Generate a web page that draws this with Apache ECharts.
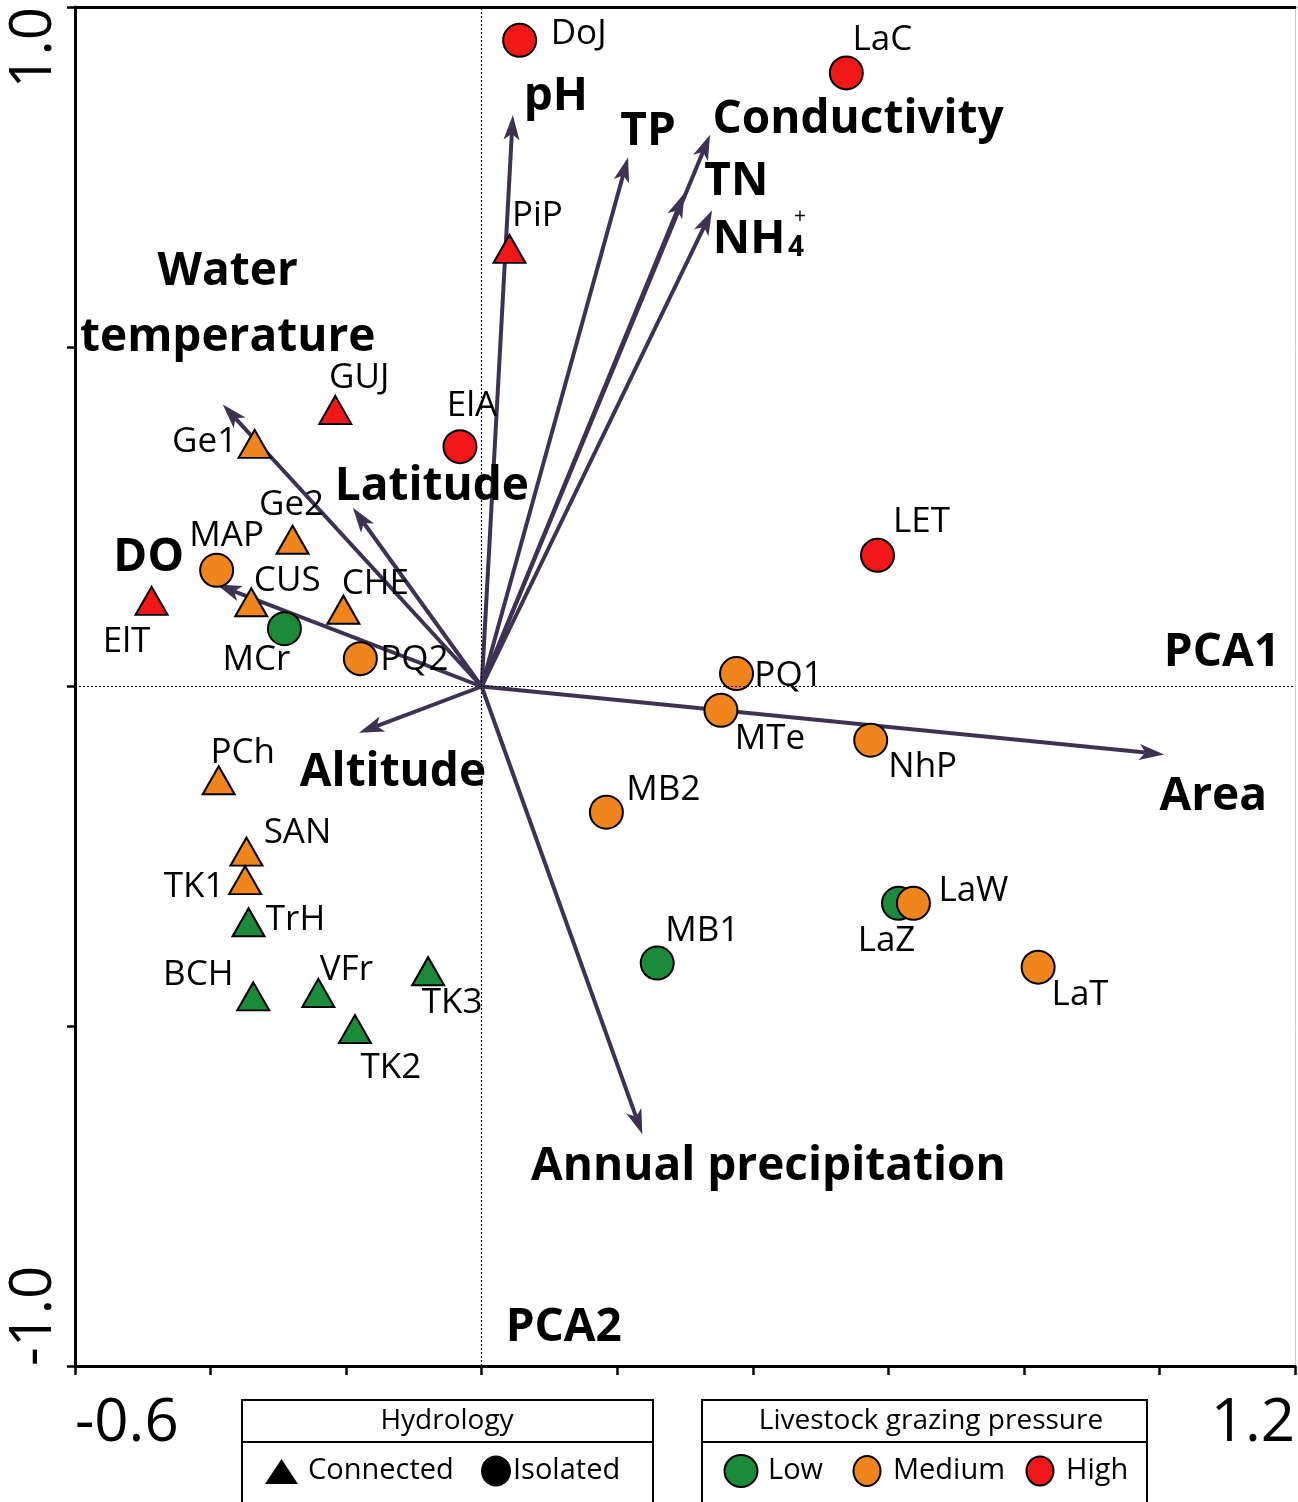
<!DOCTYPE html>
<html>
<head>
<meta charset="utf-8">
<title>PCA biplot</title>
<script src="https://cdn.jsdelivr.net/npm/echarts@6/dist/echarts.min.js"></script>
<style>
html, body { margin: 0; padding: 0; background: #fff; }
#main { width: 1298px; height: 1502px; }
</style>
</head>
<body>
<div id="main"></div>
<script>
// sites (scores on PCA1 / PCA2)
var siteNames = ['DoJ','LaC','PiP','GUJ','ElA','Ge1','Ge2','MAP','ElT','CUS','CHE','MCr','PQ2','LET','PQ1',
                 'MTe','NhP','MB2','LaZ','LaW','MB1','LaT','PCh','SAN','TK1','TrH','BCH','VFr','TK2','TK3'];
var sitePC1 = [0.056, 0.538, 0.041, -0.216, -0.032, -0.335, -0.279, -0.391, -0.487, -0.340, -0.204, -0.291, -0.179, 0.584, 0.376,
               0.353, 0.574, 0.184, 0.615, 0.637, 0.259, 0.821, -0.388, -0.347, -0.349, -0.344, -0.337, -0.241, -0.187, -0.079];
var sitePC2 = [0.951, 0.903, 0.644, 0.407, 0.353, 0.357, 0.216, 0.171, 0.126, 0.124, 0.113, 0.085, 0.041, 0.193, 0.019,
               -0.035, -0.079, -0.185, -0.319, -0.319, -0.407, -0.413, -0.138, -0.243, -0.285, -0.347, -0.456, -0.451, -0.504, -0.419];
var hydrology = ['Isolated','Isolated','Connected','Connected','Isolated','Connected','Connected','Isolated','Connected','Connected',
                 'Connected','Isolated','Isolated','Isolated','Isolated','Isolated','Isolated','Isolated','Isolated','Isolated',
                 'Isolated','Isolated','Connected','Connected','Connected','Connected','Connected','Connected','Connected','Connected'];
var grazing = ['High','High','High','High','High','Medium','Medium','Medium','High','Medium',
               'Medium','Low','Medium','High','Medium','Medium','Medium','Medium','Low','Medium',
               'Low','Medium','Medium','Medium','Medium','Low','Low','Low','Low','Low'];

// environmental variables (loadings)
var varNames = ['pH','TP','Conductivity','TN','NH4','Water temperature','Latitude','DO','Altitude','Area','Annual precipitation'];
var varPC1 = [0.046, 0.216, 0.337, 0.299, 0.340, -0.382, -0.190, -0.391, -0.181, 1.007, 0.237];
var varPC2 = [0.841, 0.779, 0.812, 0.726, 0.701, 0.415, 0.263, 0.150, -0.068, -0.100, -0.659];

var xTickLabels = ['-0.6', '1.2'];
var yTickLabels = ['-1.0', '1.0'];

// label placement (pixels from the mark)
var siteLabelOffset = {
  DoJ:[59,-6], LaC:[36,-33], PiP:[28,-33], GUJ:[24,-32], ElA:[12,-41], Ge1:[-50,-2], Ge2:[-1,-35], MAP:[10,-34],
  ElT:[-25,41], CUS:[36,-21], CHE:[32,-26], MCr:[-28,31], PQ2:[54,1], LET:[44,-33], PQ1:[52,2], MTe:[49,29],
  NhP:[52,27], MB2:[57,-22], LaZ:[-12,38], LaW:[60,-12], MB1:[45,-32], LaT:[42,28], PCh:[24,-27], SAN:[51,-19],
  TK1:[-51,7], TrH:[47,-2], BCH:[-55,-21], VFr:[28,-23], TK2:[36,39], TK3:[24,32]
};
var varLabelOffset = {
  'pH':[43,-18], 'TP':[20,-25], 'Conductivity':[148,-15], 'TN':[52,-11], 'NH4':[37,30],
  'Water temperature':[5,-100], 'Latitude':[79,-21], 'DO':[-68,-27], 'Altitude':[34,40],
  'Area':[49,42], 'Annual precipitation':[126,33]
};

var font = "'Open Sans', 'DejaVu Sans', sans-serif";
var grazeColor = { Low: '#1b8a3a', Medium: '#f0841d', High: '#f21718' };
var arrowColor = '#3e3252';

var chart = echarts.init(document.getElementById('main'));

var siteData = siteNames.map(function (n, i) {
  var tri = hydrology[i] === 'Connected';
  return {
    name: n,
    value: [sitePC1[i], sitePC2[i]],
    symbol: tri ? 'triangle' : 'circle',
    symbolSize: tri ? [32, 28] : 33,
    itemStyle: { color: grazeColor[grazing[i]] },
    label: { offset: siteLabelOffset[n] }
  };
});

var varData = varNames.map(function (n, i) {
  return { name: n, value: [varPC1[i], varPC2[i]], label: { offset: varLabelOffset[n] } };
});

function tickFmt(list) {
  return function (v) {
    var s = v.toFixed(1);
    return list.indexOf(s) >= 0 ? s : '';
  };
}

chart.setOption({
  animation: false,
  backgroundColor: '#fff',
  textStyle: { fontFamily: font },
  grid: { left: 75, right: 1, top: 7, bottom: 136 },
  xAxis: [{
    type: 'value', min: -0.6, max: 1.2, interval: 0.2, position: 'bottom',
    axisLine: { onZero: false, lineStyle: { color: '#000', width: 3 } },
    axisTick: { show: true, length: 9, lineStyle: { color: '#000', width: 2.5 } },
    axisLabel: {
      fontSize: 60, color: '#000', margin: 28, fontFamily: font,
      showMinLabel: true, showMaxLabel: true, alignMinLabel: 'left', alignMaxLabel: 'right',
      formatter: tickFmt(xTickLabels)
    },
    splitLine: { show: false }
  }, {
    type: 'value', min: -0.6, max: 1.2, position: 'top',
    axisLine: { onZero: false, lineStyle: { color: '#000', width: 3 } },
    axisTick: { show: false }, axisLabel: { show: false }, splitLine: { show: false }
  }],
  yAxis: [{
    type: 'value', min: -1, max: 1, interval: 0.5, position: 'left',
    axisLine: { onZero: false, lineStyle: { color: '#000', width: 3 } },
    axisTick: { show: true, length: 8, lineStyle: { color: '#000', width: 2.5 } },
    axisLabel: {
      fontSize: 58, color: '#000', margin: 12, rotate: 90, fontFamily: font,
      showMinLabel: true, showMaxLabel: true, alignMinLabel: 'left', alignMaxLabel: 'right',
      formatter: tickFmt(yTickLabels)
    },
    splitLine: { show: false }
  }, {
    type: 'value', min: -1, max: 1, position: 'right',
    axisLine: { onZero: false, lineStyle: { color: '#cccccc', width: 1 } },
    axisTick: { show: false }, axisLabel: { show: false }, splitLine: { show: false }
  }],
  series: [{
    // arrows for the environmental variables
    type: 'custom',
    z: 2,
    silent: true,
    data: varPC1.map(function (x, i) { return [x, varPC2[i]]; }),
    renderItem: function (params, api) {
      var o = api.coord([0, 0]);
      var p = api.coord([api.value(0), api.value(1)]);
      var dx = p[0] - o[0], dy = p[1] - o[1];
      var len = Math.sqrt(dx * dx + dy * dy);
      var ux = dx / len, uy = dy / len, L = 25, W = 8;
      var bx = p[0] - ux * L, by = p[1] - uy * L;
      var nx = p[0] - ux * L * 0.75, ny = p[1] - uy * L * 0.75;
      return {
        type: 'group',
        children: [{
          type: 'line',
          shape: { x1: o[0], y1: o[1], x2: nx, y2: ny },
          style: { stroke: arrowColor, lineWidth: 4 }
        }, {
          type: 'polygon',
          shape: { points: [[p[0], p[1]], [bx - uy * W, by + ux * W], [nx, ny], [bx + uy * W, by - ux * W]] },
          style: { fill: arrowColor }
        }]
      };
    }
  }, {
    // sites
    type: 'scatter',
    z: 3,
    silent: true,
    data: siteData,
    itemStyle: { borderColor: '#000', borderWidth: 2, opacity: 1 },
    label: {
      show: true, position: 'inside', align: 'center', verticalAlign: 'middle',
      formatter: '{b}', fontSize: 35, color: '#000', fontFamily: font
    }
  }, {
    // variable names at arrow tips + zero lines
    type: 'scatter',
    z: 4,
    silent: true,
    symbol: 'circle',
    symbolSize: 1,
    itemStyle: { color: 'rgba(0,0,0,0)', opacity: 1 },
    data: varData,
    label: {
      show: true, position: 'inside', align: 'center', verticalAlign: 'middle',
      fontSize: 46, fontWeight: 'bold', color: '#000', fontFamily: font, lineHeight: 66,
      formatter: function (p) {
        if (p.name === 'NH4') return 'NH';
        if (p.name === 'Water temperature') return 'Water\ntemperature';
        return p.name;
      }
    },
    markLine: {
      silent: true,
      symbol: ['none', 'none'],
      label: { show: false },
      lineStyle: { type: [2, 2], color: '#000', width: 1.2, opacity: 1 },
      data: [{ xAxis: 0 }, { yAxis: 0 }]
    }
  }]
});

function px(pt) { return chart.convertToPixel({ gridIndex: 0 }, pt); }
var pca1 = px([1.2, 0]);
var pca2 = px([0, -1]);
var nhTip = px([varPC1[4], varPC2[4]]);

function txt(x, y, text, size, weight, align) {
  return {
    type: 'text', x: x, y: y, z: 10,
    style: {
      text: text, fontSize: size, fontWeight: weight || 'normal', fontFamily: font,
      fill: '#000', align: align || 'left', verticalAlign: 'middle'
    }
  };
}

var graphics = [
  txt(pca1[0] - 15, pca1[1] - 34, 'PCA1', 46, 'bold', 'right'),
  txt(pca2[0] + 24, pca2[1] - 38, 'PCA2', 46, 'bold', 'left'),
  // NH4+ subscript and superscript
  txt(nhTip[0] + 84, nhTip[1] + 38, '4', 28, 'bold', 'center'),
  txt(nhTip[0] + 88, nhTip[1] + 7, '+', 21, 'normal', 'center'),

  // Hydrology legend
  { type: 'rect', shape: { x: 242, y: 1400, width: 411, height: 130 }, style: { fill: 'none', stroke: '#000', lineWidth: 2 } },
  { type: 'line', shape: { x1: 242, y1: 1442, x2: 653, y2: 1442 }, style: { stroke: '#000', lineWidth: 2 } },
  txt(447, 1421, 'Hydrology', 28, 'normal', 'center'),
  { type: 'polygon', shape: { points: [[265, 1484], [298, 1484], [281.5, 1459]] }, style: { fill: '#000' } },
  txt(308, 1471, 'Connected', 29),
  { type: 'ellipse', shape: { cx: 496, cy: 1471, rx: 15, ry: 15.5 }, style: { fill: '#000' } },
  txt(513, 1471, 'Isolated', 29),

  // Grazing legend
  { type: 'rect', shape: { x: 702, y: 1400, width: 445, height: 130 }, style: { fill: 'none', stroke: '#000', lineWidth: 2 } },
  { type: 'line', shape: { x1: 702, y1: 1442, x2: 1147, y2: 1442 }, style: { stroke: '#000', lineWidth: 2 } },
  txt(931, 1421, 'Livestock grazing pressure', 28, 'normal', 'center'),
  { type: 'ellipse', shape: { cx: 741, cy: 1471, rx: 16.5, ry: 16 }, style: { fill: grazeColor.Low, stroke: '#000', lineWidth: 2 } },
  txt(768, 1471, 'Low', 29),
  { type: 'ellipse', shape: { cx: 867, cy: 1471, rx: 13.5, ry: 15 }, style: { fill: grazeColor.Medium, stroke: '#000', lineWidth: 2 } },
  txt(893, 1471, 'Medium', 29),
  { type: 'ellipse', shape: { cx: 1040, cy: 1471, rx: 13.5, ry: 14.5 }, style: { fill: grazeColor.High, stroke: '#000', lineWidth: 2 } },
  txt(1066, 1471, 'High', 29)
];

chart.setOption({ graphic: graphics });
</script>
</body>
</html>
